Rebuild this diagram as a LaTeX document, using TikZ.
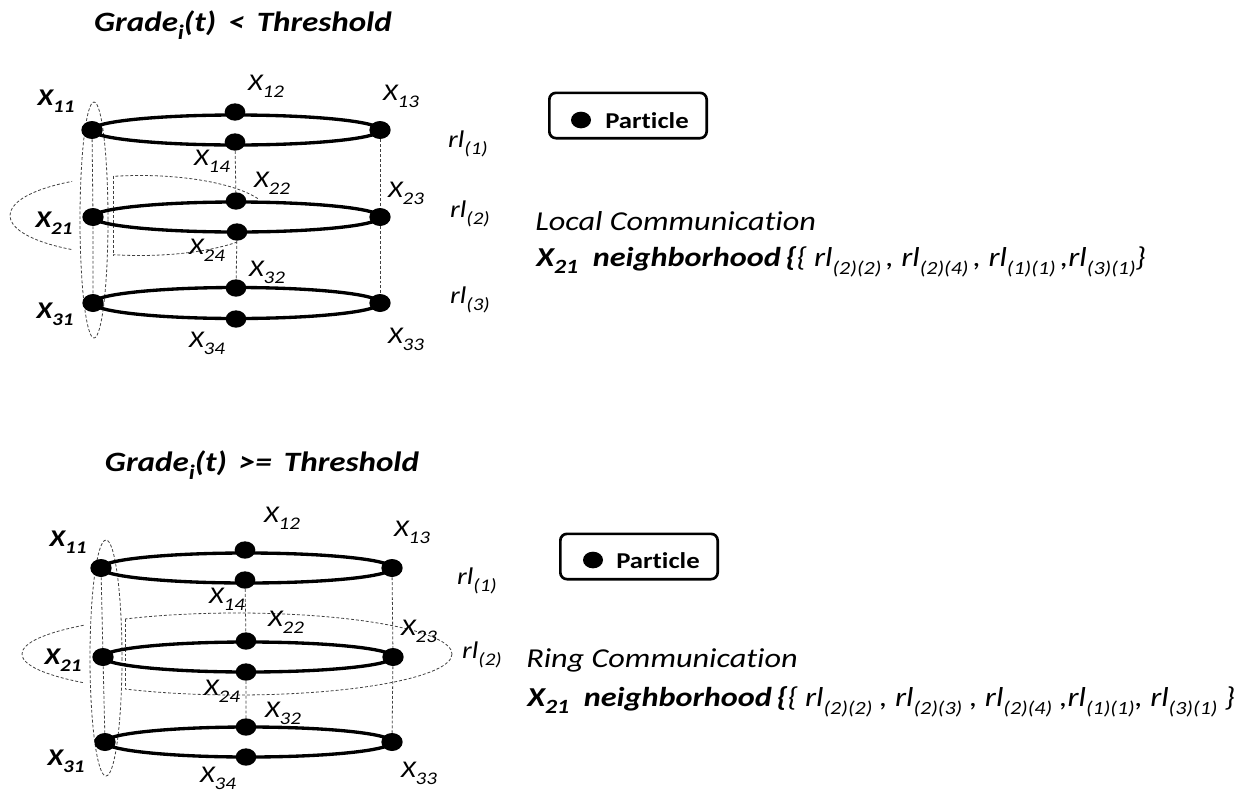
\documentclass[tikz,border=0pt]{standalone}
\usepackage{graphicx}
\usepackage{fontspec}
\setmainfont{Carlito}[FakeStretch=1.18,Ligatures=NoCommon]
\usetikzlibrary{shapes.geometric}
\newcommand\sbs[1]{\raisebox{-0.28em}{\scalebox{0.74}{#1}}}
\newcommand\rsb[1]{\raisebox{-0.3em}{\scalebox{0.68}{#1}}}
\begin{document}
\begin{tikzpicture}[x=0.75pt,y=-0.75pt,
  ringline/.style={line width=2.5pt},
  dot/.style={ellipse,fill=black,inner sep=0pt,minimum width=16pt,minimum height=13.5pt},
  sdot/.style={ellipse,fill=black,inner sep=0pt,minimum width=15.5pt,minimum height=13pt},
  dsh/.style={line width=0.6pt,dash pattern=on 2.2pt off 1.5pt,black!75},
  lbl/.style={font=\fontsize{18}{21}\selectfont\itshape,inner sep=0pt},
  blbl/.style={font=\fontsize{18}{21}\selectfont\bfseries\itshape,inner sep=0pt},
  ttl/.style={font=\fontsize{21}{25}\selectfont\bfseries\itshape,inner sep=0pt},
  rll/.style={font=\fontsize{18}{22}\selectfont\itshape,inner sep=0pt},
  desc/.style={font=\fontsize{20.5}{24}\selectfont\itshape,anchor=base west,inner sep=0pt},
  pbox/.style={draw,rounded corners=5pt,line width=2pt,minimum width=118pt,minimum height=34pt,inner sep=0pt},
  ptxt/.style={font=\fontsize{17}{20}\selectfont\bfseries,inner sep=0pt}
]
\path[use as bounding box] (0,0) rectangle (1235,793);

% ================= TOP =================
\node[ttl] (t1) at (243,25) {Grade\sbs{i}(t) \,<\, Threshold};

\begin{scope}
  \clip (0,0) rectangle (72,400) (113,0) rectangle (258,215.5) (113,215.5) rectangle (237,300);
  \draw[dsh] (140,215.5) ellipse [x radius=130, y radius=40];
\end{scope}
\coordinate (n1t) at (113,176);
\coordinate (n1b) at (113,255);
\draw[dsh] (n1t) -- (n1b);
\draw[dsh] (94,220) ellipse [x radius=14, y radius=118];

\node[dot]  (a11) at (92,130) {};
\node[sdot] (a12) at (235,112) {};
\node[dot]  (a13) at (380,130) {};
\node[sdot] (a14) at (235,142) {};
\node[dot]  (a21) at (93,217) {};
\node[sdot] (a22) at (236,201) {};
\node[dot]  (a23) at (380,217) {};
\node[sdot] (a24) at (237,232) {};
\node[dot]  (a31) at (93,303) {};
\node[sdot] (a32) at (236,288) {};
\node[dot]  (a33) at (380,303) {};
\node[sdot] (a34) at (236,319) {};

\draw[dsh] (a11) -- (a21) -- (a31);
\draw[dsh] (a14) -- (a22) (a24) -- (a32);
\draw[dsh] (a13) -- (a23) -- (a33);

\draw[ringline] (236,130) ellipse [x radius=144, y radius=15];
\draw[ringline] (236.5,217) ellipse [x radius=143.5, y radius=15];
\draw[ringline] (236.5,303) ellipse [x radius=143.5, y radius=15.5];

\node[blbl] (l11) at (56,101) {X\sbs{11}};
\node[lbl]  (l12) at (266,86) {X\sbs{12}};
\node[lbl]  (l13) at (401,96) {X\sbs{13}};
\node[lbl]  (l14) at (212,161) {X\sbs{14}};
\node[lbl]  (l22) at (272,183) {X\sbs{22}};
\node[lbl]  (l23) at (406,193) {X\sbs{23}};
\node[blbl] (l21) at (54,223) {X\sbs{21}};
\node[lbl]  (l24) at (207,250) {X\sbs{24}};
\node[lbl]  (l32) at (267,272) {X\sbs{32}};
\node[blbl] (l31) at (55,314) {X\sbs{31}};
\node[lbl]  (l33) at (406,339) {X\sbs{33}};
\node[lbl]  (l34) at (207,343) {X\sbs{34}};
\node[rll] (r11) at (468,144) {rl\sbs{(1)}};
\node[rll] (r12) at (470,214) {rl\sbs{(2)}};
\node[rll] (r13) at (470,300) {rl\sbs{(3)}};

\node[pbox] (pb1) at (628,115.5) {};
\node[ellipse,fill=black,inner sep=0pt,minimum width=15pt,minimum height=12.5pt] (pd1) at (581,120) {};
\node[ptxt] (pt1) at (647,121) {Particle};

\node[desc] (d1a) at (535,230) {Local Communication};
\node[desc] (d1b) at (536,266) {\textbf{X\sbs{21}\ \ neighborhood\,\{}\{ rl\rsb{(2)(2)}\,, rl\rsb{(2)(4)}\,, rl\rsb{(1)(1)}\,,rl\rsb{(3)(1)}\}};

% ================= BOTTOM =================
\node[ttl] (t2) at (262,465) {Grade\sbs{i}(t) \,>=\, Threshold};

\begin{scope}
  \clip (0,500) rectangle (84,793) (125,500) rectangle (1235,793);
  \draw[dsh] (237,654) ellipse [x radius=215, y radius=41];
\end{scope}
\coordinate (n2t) at (125,619);
\coordinate (n2b) at (125,689);
\draw[dsh] (n2t) -- (n2b);
\draw[dsh] (106,658) ellipse [x radius=16, y radius=118];

\node[dot]  (b11) at (101,568) {};
\node[sdot] (b12) at (245,550) {};
\node[dot]  (b13) at (392,568) {};
\node[sdot] (b14) at (245,580) {};
\node[dot]  (b21) at (103,657) {};
\node[sdot] (b22) at (246,641) {};
\node[dot]  (b23) at (393,657) {};
\node[sdot] (b24) at (246,672) {};
\node[dot]  (b31) at (105,742) {};
\node[sdot] (b32) at (246,727) {};
\node[dot]  (b33) at (392,742) {};
\node[sdot] (b34) at (246,757) {};

\draw[dsh] (b11) -- (b21) -- (b31);
\draw[dsh] (b14) -- (b22) (b24) -- (b32);
\draw[dsh] (b13) -- (b23) -- (b33);

\draw[ringline] (246.5,568) ellipse [x radius=145.5, y radius=15];
\draw[ringline] (248,657) ellipse [x radius=145, y radius=15];
\draw[ringline] (248.5,742) ellipse [x radius=143.5, y radius=15];

\node[blbl] (m11) at (68,542) {X\sbs{11}};
\node[lbl]  (m12) at (282,518) {X\sbs{12}};
\node[lbl]  (m13) at (412,532) {X\sbs{13}};
\node[lbl]  (m14) at (227,599) {X\sbs{14}};
\node[lbl]  (m22) at (286,622) {X\sbs{22}};
\node[lbl]  (m23) at (419,631) {X\sbs{23}};
\node[blbl] (m21) at (63,660) {X\sbs{21}};
\node[lbl]  (m24) at (222,691) {X\sbs{24}};
\node[lbl]  (m32) at (283,713) {X\sbs{32}};
\node[blbl] (m31) at (66,761) {X\sbs{31}};
\node[lbl]  (m33) at (419,773) {X\sbs{33}};
\node[lbl]  (m34) at (218,778) {X\sbs{34}};
\node[rll] (s11) at (477,581) {rl\sbs{(1)}};
\node[rll] (s12) at (482,655) {rl\sbs{(2)}};

\node[pbox] (pb2) at (639,556.5) {};
\node[ellipse,fill=black,inner sep=0pt,minimum width=15pt,minimum height=12.5pt] (pd2) at (593,560) {};
\node[ptxt] (pt2) at (658,561) {Particle};

\node[desc] (d2a) at (526,667) {Ring Communication};
\node[desc] (d2b) at (527,706) {\textbf{X\sbs{21}\ \ neighborhood\,\{}\{ rl\rsb{(2)(2)} , rl\rsb{(2)(3)} , rl\rsb{(2)(4)} ,rl\rsb{(1)(1)}, rl\rsb{(3)(1)} \}};
\end{tikzpicture}
\end{document}
